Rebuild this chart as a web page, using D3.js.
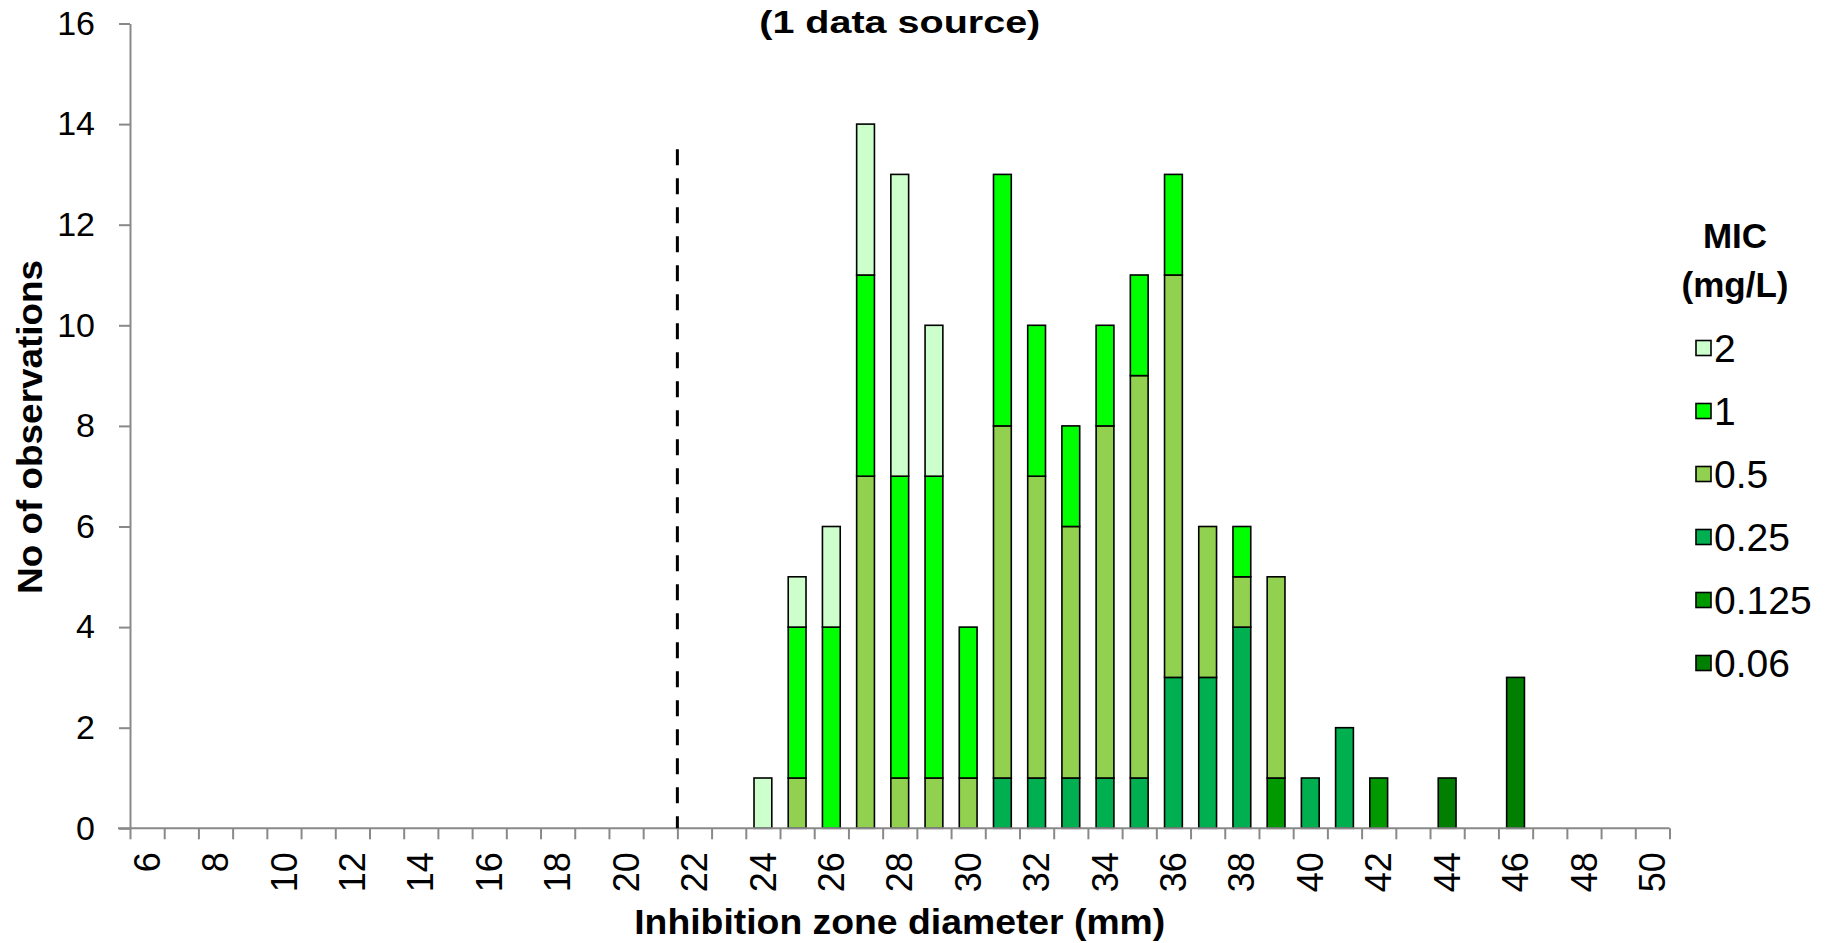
<!DOCTYPE html>
<html>
<head>
<meta charset="utf-8">
<script src="https://cdn.jsdelivr.net/npm/d3@7"></script>
<style>
  body { margin: 0; background: #fff; }
  svg { display: block; font-family: "Liberation Sans", Arial, sans-serif; }
</style>
</head>
<body>
<svg id="chart"></svg>
<script>
// inhibition zone diameter (mm), one category per mm
const diameters = [6, 7, 8, 9, 10, 11, 12, 13, 14, 15, 16, 17, 18, 19, 20, 21, 22, 23, 24, 25, 26, 27, 28,
  29, 30, 31, 32, 33, 34, 35, 36, 37, 38, 39, 40, 41, 42, 43, 44, 45, 46, 47, 48, 49, 50]
const tickLabels = [6, 8, 10, 12, 14, 16, 18, 20, 22, 24, 26, 28, 30, 32, 34, 36, 38, 40, 42, 44, 46, 48, 50]
const yTicks = [0, 2, 4, 6, 8, 10, 12, 14, 16]

// counts per diameter, one array per MIC (mg/L)
//               6 .......................................... 23 | 24 ......................................................... 46 | 47..50
const mic006  = [0,0,0,0,0,0,0,0,0,0,0,0,0,0,0,0,0,0,  0,0,0,0,0,0,0,0,0,0,0,0,0,0,0,0,0,0,0,0,1,0,3,  0,0,0,0]
const mic0125 = [0,0,0,0,0,0,0,0,0,0,0,0,0,0,0,0,0,0,  0,0,0,0,0,0,0,0,0,0,0,0,0,0,0,1,0,0,1,0,0,0,0,  0,0,0,0]
const mic025  = [0,0,0,0,0,0,0,0,0,0,0,0,0,0,0,0,0,0,  0,0,0,0,0,0,0,1,1,1,1,1,3,3,4,0,1,2,0,0,0,0,0,  0,0,0,0]
const mic05   = [0,0,0,0,0,0,0,0,0,0,0,0,0,0,0,0,0,0,  0,1,0,7,1,1,1,7,6,5,7,8,8,3,1,4,0,0,0,0,0,0,0,  0,0,0,0]
const mic1    = [0,0,0,0,0,0,0,0,0,0,0,0,0,0,0,0,0,0,  0,3,4,4,6,6,3,5,3,2,2,2,2,0,1,0,0,0,0,0,0,0,0,  0,0,0,0]
const mic2    = [0,0,0,0,0,0,0,0,0,0,0,0,0,0,0,0,0,0,  1,1,2,3,6,3,0,0,0,0,0,0,0,0,0,0,0,0,0,0,0,0,0,  0,0,0,0]

const micLabels = ['0.06', '0.125', '0.25', '0.5', '1', '2']
const micColors = ['#007f00', '#009900', '#00b050', '#92d050', '#00ff00', '#ccffcc']
const breakpoint = 22      // dashed line sits at the left edge of this category
const breakpointTop = 13.5

const width = 1833
const height = 943
const margin = {top: 23.5, right: 163.5, bottom: 114.7, left: 130}

const series = [mic006, mic0125, mic025, mic05, mic1, mic2]
const table = diameters.map((d, i) => {
  const row = {d}
  micLabels.forEach((m, j) => row[m] = series[j][i])
  return row
})
const stacked = d3.stack().keys(micLabels)(table)

const svg = d3.select('#chart')
  .attr('width', width)
  .attr('height', height)
  .attr('viewBox', `0 0 ${width} ${height}`)

const x = d3.scaleBand()
  .domain(diameters)
  .range([margin.left, width - margin.right])
  .padding(0)

const xEdge = d3.scaleLinear()
  .domain([diameters[0] - 0.5, diameters[diameters.length - 1] + 0.5])
  .range(x.range())

const y = d3.scaleLinear()
  .domain([0, 16])
  .range([height - margin.bottom, margin.top])

const color = d3.scaleOrdinal().domain(micLabels).range(micColors)

const barW = x.bandwidth() * 0.52
const plotMid = (margin.left + width - margin.right) / 2

// bars
svg.append('g')
  .selectAll('g')
  .data(stacked)
  .join('g')
    .attr('fill', s => color(s.key))
  .selectAll('rect')
  .data(s => s.filter(p => p[1] > p[0]))
  .join('rect')
    .attr('x', p => x(p.data.d) + (x.bandwidth() - barW) / 2)
    .attr('y', p => y(p[1]))
    .attr('width', barW)
    .attr('height', p => y(p[0]) - y(p[1]))
    .attr('stroke', '#000')
    .attr('stroke-width', 1.6)

// y axis
svg.append('g')
  .attr('transform', `translate(${margin.left},0)`)
  .call(d3.axisLeft(y).tickValues(yTicks).tickSize(11).tickPadding(24).tickSizeOuter(0))
  .call(g => g.selectAll('line, path').attr('stroke', '#898989').attr('stroke-width', 2))
  .call(g => g.selectAll('text').attr('font-size', 34).attr('fill', '#000').attr('font-family', null))

// x axis: tick marks at category edges
const edges = diameters.map(d => d - 0.5).concat([diameters[diameters.length - 1] + 0.5])
svg.append('g')
  .attr('transform', `translate(0,${y(0)})`)
  .call(d3.axisBottom(xEdge).tickValues(edges).tickSize(11).tickFormat('').tickSizeOuter(0))
  .call(g => g.selectAll('line').attr('stroke', '#898989').attr('stroke-width', 2))
  .call(g => g.select('.domain').attr('stroke', '#898989').attr('stroke-width', 2)
    .attr('d', `M${margin.left - 12},0H${width - margin.right}`))

// x axis: rotated labels at category centres
svg.append('g')
  .attr('transform', `translate(0,${y(0)})`)
  .call(d3.axisBottom(x).tickValues(tickLabels).tickSize(0))
  .call(g => g.select('.domain').remove())
  .call(g => g.selectAll('text')
    .attr('font-size', 36)
    .attr('font-family', null)
    .attr('fill', '#000')
    .attr('transform', 'rotate(-90)')
    .attr('x', -24)
    .attr('y', 0)
    .attr('dy', '0.35em')
    .attr('text-anchor', 'end'))

// breakpoint line
svg.append('line')
  .attr('x1', x(breakpoint)).attr('x2', x(breakpoint))
  .attr('y1', y(breakpointTop)).attr('y2', y(0))
  .attr('stroke', '#000')
  .attr('stroke-width', 3)
  .attr('stroke-dasharray', '16,13')

// titles
svg.append('text')
  .attr('x', plotMid)
  .attr('y', 33)
  .attr('text-anchor', 'middle')
  .attr('font-size', 32)
  .attr('font-weight', 'bold')
  .attr('textLength', 281)
  .attr('lengthAdjust', 'spacingAndGlyphs')
  .text('(1 data source)')

svg.append('text')
  .attr('x', plotMid)
  .attr('y', 934)
  .attr('text-anchor', 'middle')
  .attr('font-size', 35)
  .attr('font-weight', 'bold')
  .attr('textLength', 531)
  .attr('lengthAdjust', 'spacingAndGlyphs')
  .text('Inhibition zone diameter (mm)')

svg.append('text')
  .attr('transform', `translate(42,${(y(0) + y(16)) / 2 + 1}) rotate(-90)`)
  .attr('text-anchor', 'middle')
  .attr('font-size', 35)
  .attr('font-weight', 'bold')
  .attr('textLength', 334)
  .attr('lengthAdjust', 'spacingAndGlyphs')
  .text('No of observations')

// legend
const legend = svg.append('g').attr('transform', 'translate(1695,0)')
legend.append('text')
  .attr('x', 40).attr('y', 248)
  .attr('text-anchor', 'middle')
  .attr('font-size', 35).attr('font-weight', 'bold')
  .text('MIC')
legend.append('text')
  .attr('x', 40).attr('y', 297)
  .attr('text-anchor', 'middle')
  .attr('font-size', 35).attr('font-weight', 'bold')
  .text('(mg/L)')

const items = legend.selectAll('g.item')
  .data(micLabels.slice().reverse())
  .join('g')
    .attr('class', 'item')
    .attr('transform', (d, i) => `translate(0,${348 + i * 63})`)
items.append('rect')
  .attr('x', 1).attr('y', -7.5)
  .attr('width', 15).attr('height', 15)
  .attr('fill', d => color(d))
  .attr('stroke', '#000')
  .attr('stroke-width', 1.6)
items.append('text')
  .attr('x', 19)
  .attr('dy', '0.36em')
  .attr('font-size', 39)
  .text(d => d)
</script>
</body>
</html>
